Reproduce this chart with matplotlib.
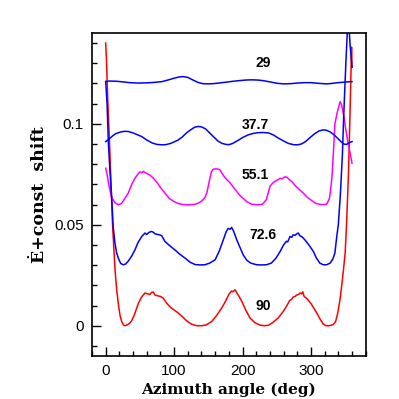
import matplotlib
matplotlib.use("Agg")
import matplotlib.pyplot as plt
from matplotlib.ticker import MultipleLocator, FuncFormatter

# ---------------- data ----------------
x90 = [0, 1, 3, 6, 10, 13.6, 16, 18.4, 21, 23.4, 26, 28, 31, 35, 38, 42, 47.7, 52, 57.5, 61,
       64.8, 67, 69.6, 72, 76, 80, 84, 89, 95, 100, 106, 112, 118, 125.7, 133, 140, 147, 155,
       162, 169.6, 175, 180, 184, 186, 189, 192, 195, 199, 205, 211, 218, 225.6, 232, 237.7,
       244, 252, 259.6, 264, 269, 272, 274, 276.8, 279, 282, 284, 286.5, 288, 290, 293.9, 300,
       308.5, 313, 318, 322, 327, 332.7, 336, 339, 342.5, 345, 347, 350, 352, 354.7, 356, 358,
       359.3, 360]
y90 = [0.140, 0.133, 0.112, 0.087, 0.050, 0.028, 0.018, 0.011, 0.005, 0.002, 0.0004, 0.0,
       0.0003, 0.0012, 0.0025, 0.0055, 0.011, 0.014, 0.0162, 0.0158, 0.0155, 0.0165, 0.0167,
       0.0152, 0.0148, 0.0145, 0.0137, 0.0112, 0.009, 0.0078, 0.0063, 0.0045, 0.0025, 0.0007,
       0.0, 0.0, 0.0004, 0.0021, 0.005, 0.0088, 0.012, 0.0155, 0.0172, 0.0168, 0.0178, 0.016,
       0.0145, 0.012, 0.0075, 0.0038, 0.0015, 0.0003, 0.0, 0.0002, 0.0015, 0.0038, 0.0071,
       0.0095, 0.0125, 0.0132, 0.0142, 0.0145, 0.0152, 0.0155, 0.0162, 0.0158, 0.0168, 0.0145,
       0.0135, 0.011, 0.0063, 0.0035, 0.0008, 0.0, 0.0, 0.0006, 0.002, 0.006, 0.013, 0.020,
       0.026, 0.036, 0.050, 0.074, 0.090, 0.118, 0.138, 0.128]

x72 = [0, 2, 4, 6.5, 9, 11, 13.5, 16, 19, 22, 25.7, 29, 33, 38, 42.8, 47, 52.6, 57.5, 60, 63,
       67, 70, 72, 76, 79, 82, 86.7, 93, 101, 108, 116, 123, 130.6, 138, 145, 152, 160, 166,
       172, 176, 179, 182, 184, 187, 191.5, 196, 201, 206, 212, 220.7, 228, 235, 242, 249, 255,
       260, 264, 266, 269.4, 272, 274, 277, 279, 281.6, 284, 287, 291, 297, 303.5, 308, 313,
       318, 323, 328, 332, 335, 338, 340, 343, 346, 348, 351, 353.5, 355, 357, 360]
y72 = [0.121, 0.110, 0.090, 0.075, 0.062, 0.049, 0.041, 0.036, 0.033, 0.0308, 0.0302, 0.0305,
       0.032, 0.0345, 0.0376, 0.041, 0.0442, 0.0459, 0.0452, 0.0462, 0.0467, 0.0462, 0.0455,
       0.0452, 0.045, 0.0445, 0.0417, 0.0398, 0.0376, 0.0355, 0.0335, 0.0315, 0.0303, 0.0301,
       0.0302, 0.031, 0.0327, 0.037, 0.0426, 0.0465, 0.0482, 0.0478, 0.0487, 0.0468, 0.0426,
       0.039, 0.0351, 0.0325, 0.031, 0.0302, 0.0301, 0.0302, 0.031, 0.0335, 0.0368, 0.040,
       0.0418, 0.0415, 0.0442, 0.0438, 0.045, 0.0448, 0.0455, 0.0459, 0.0445, 0.044, 0.0426,
       0.040, 0.0368, 0.0335, 0.031, 0.0302, 0.0302, 0.031, 0.033, 0.036, 0.045, 0.050, 0.065,
       0.085, 0.105, 0.130, 0.148, 0.152, 0.140, 0.128]

x55 = [0, 2, 5, 8.8, 13.6, 18.4, 23, 28, 33, 38, 42.8, 47, 50, 53, 55, 57, 60, 65, 69.6, 75,
       80, 86.7, 93, 100, 106, 112, 120, 130, 136, 141, 145, 148, 151, 154.6, 157, 160, 164,
       167, 170, 174, 178, 181.7, 188, 195, 201, 206, 213, 221, 229, 235, 240, 245, 250, 255,
       258, 262, 265, 268, 272, 278, 283, 288.6, 295, 303, 308, 313, 318, 323, 327, 329, 331,
       333, 335, 338, 341, 342.6, 345, 348, 351, 354, 357, 360]
y55 = [0.078, 0.075, 0.069, 0.0634, 0.061, 0.0599, 0.0605, 0.063, 0.0657, 0.070, 0.0731, 0.075,
       0.0762, 0.0758, 0.0765, 0.0760, 0.0755, 0.0745, 0.0731, 0.071, 0.0685, 0.0657, 0.063,
       0.0615, 0.0605, 0.0601, 0.0599, 0.0601, 0.0608, 0.062, 0.0634, 0.066, 0.071, 0.0764,
       0.0775, 0.0777, 0.0776, 0.0772, 0.0755, 0.0735, 0.072, 0.0708, 0.068, 0.065, 0.063,
       0.0615, 0.0602, 0.0599, 0.0601, 0.0625, 0.069, 0.071, 0.072, 0.073, 0.0728, 0.0738,
       0.0735, 0.0725, 0.0714, 0.069, 0.0675, 0.0658, 0.0635, 0.0615, 0.0605, 0.0601, 0.060,
       0.0602, 0.063, 0.068, 0.075, 0.087, 0.100, 0.105, 0.109, 0.111, 0.109, 0.104, 0.097,
       0.091, 0.086, 0.0805]

x37 = [0, 5, 10, 15, 22, 28, 33, 40, 47, 52.6, 60, 68, 75, 82, 88, 95, 101, 106, 112, 118, 124,
       130, 135, 140, 146, 152, 158, 164, 170, 176, 180, 185, 192, 200, 208, 215, 222, 230, 238,
       245, 252, 260, 267, 274, 280, 286, 292, 298, 305, 312, 318, 323, 328, 334, 340, 345, 348,
       352, 355, 360]
y37 = [0.0912, 0.0925, 0.094, 0.0952, 0.096, 0.0963, 0.0962, 0.0955, 0.0945, 0.0937, 0.092,
       0.0905, 0.0898, 0.0896, 0.0897, 0.0903, 0.0912, 0.092, 0.0935, 0.0955, 0.097, 0.0983,
       0.0987, 0.0985, 0.0975, 0.0955, 0.0935, 0.0915, 0.0903, 0.0898, 0.0897, 0.0902, 0.0915,
       0.0932, 0.0945, 0.0952, 0.0956, 0.0957, 0.0955, 0.0945, 0.093, 0.0915, 0.0903, 0.0897,
       0.0896, 0.090, 0.0912, 0.093, 0.095, 0.0965, 0.097, 0.0968, 0.096, 0.0945, 0.0925,
       0.0908, 0.090, 0.0898, 0.0905, 0.0912]

x29 = [0, 5, 15, 25, 35, 47.7, 60, 70, 82, 92, 100, 107, 113, 120, 127, 135, 142, 150, 157, 165,
       175, 184, 195, 205, 213, 222, 230, 240, 250, 260, 270, 280, 290, 300, 310, 318, 323, 330,
       340, 350, 360]
y29 = [0.1209, 0.1212, 0.1211, 0.1208, 0.1204, 0.1202, 0.1203, 0.1205, 0.1209, 0.1218, 0.1226,
       0.1232, 0.1234, 0.1230, 0.1218, 0.1205, 0.1199, 0.1198, 0.1199, 0.1202, 0.1206, 0.1210,
       0.1214, 0.1217, 0.1218, 0.1217, 0.1214, 0.1208, 0.1201, 0.1198, 0.1199, 0.1202, 0.1204,
       0.1204, 0.1201, 0.1199, 0.1198, 0.1200, 0.1204, 0.1207, 0.1209]

labels = ["29", "37.7", "55.1", "72.6", "90"]
label_x = [230, 218, 218, 229.5, 230]
label_y = [0.130, 0.0995, 0.0748, 0.045, 0.0096]

# ---------------- figure ----------------
fig = plt.figure(figsize=(3.99, 3.99), dpi=100)
ax = fig.add_axes([0.2306, 0.1078, 0.6859, 0.8095])

lw = 1.1
ax.plot(x90, y90, color="#ff0000", lw=lw)
ax.plot(x55, y55, color="#ff00ff", lw=lw)
ax.plot(x72, y72, color="#0000ff", lw=lw)
ax.plot(x37, y37, color="#0000ff", lw=lw)
ax.plot(x29, y29, color="#0000ff", lw=lw)

for t, tx, ty in zip(labels, label_x, label_y):
    ax.text(tx, ty, t, ha="center", va="center", fontsize=10, fontweight="bold",
            family="Liberation Sans")

ax.set_xlim(-20, 380)
ax.set_ylim(-0.015, 0.145)
ax.xaxis.set_major_locator(MultipleLocator(100))
ax.xaxis.set_minor_locator(MultipleLocator(20))
ax.yaxis.set_major_locator(MultipleLocator(0.05))
ax.yaxis.set_minor_locator(MultipleLocator(0.01))
ax.yaxis.set_major_formatter(FuncFormatter(lambda v, p: "0" if abs(v) < 1e-9 else f"{v:g}"))
ax.tick_params(which="both", direction="in", top=False, right=False)
ax.tick_params(which="major", length=6.5, width=1.0, labelsize=11, pad=6)
ax.tick_params(which="minor", length=3.3, width=1.0)
for lab in ax.get_xticklabels() + ax.get_yticklabels():
    lab.set_family("Liberation Sans")
for s in ax.spines.values():
    s.set_linewidth(1.2)

ax.set_xlabel("Azimuth angle (deg)", family="DejaVu Serif", fontweight="bold", fontsize=11,
              labelpad=3)
ax.set_ylabel("\u0116+const  shift", family="DejaVu Serif", fontweight="bold", fontsize=12.5,
              labelpad=4)

fig.savefig("out.png", dpi=100)
